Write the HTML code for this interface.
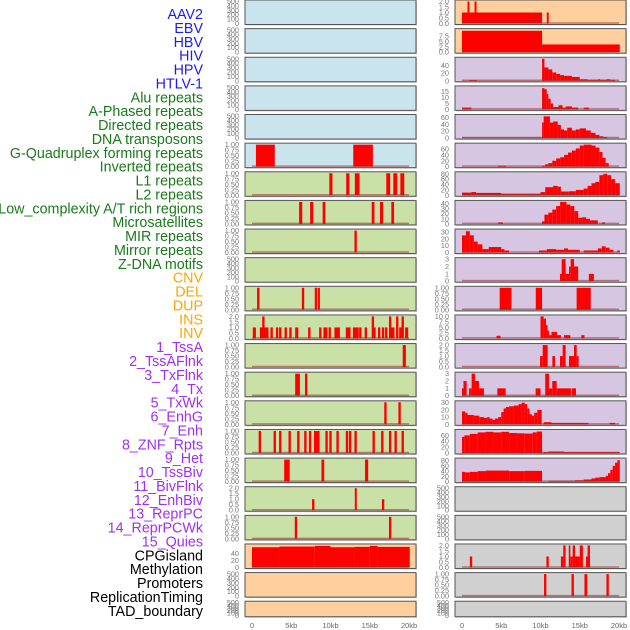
<!DOCTYPE html>
<html><head><meta charset="utf-8"><style>
html,body{margin:0;padding:0;background:#fff;width:630px;height:630px;overflow:hidden}
svg{display:block;font-family:"Liberation Sans",sans-serif}
</style></head><body>
<svg id="chart" width="630" height="630" viewBox="0 0 630 630"></svg>
<script>
// ---- labels ----
const trackNames = ["AAV2","EBV","HBV","HIV","HPV","HTLV-1","Alu repeats","A-Phased repeats","Directed repeats","DNA transposons","G-Quadruplex forming repeats","Inverted repeats","L1 repeats","L2 repeats","Low_complexity A/T rich regions","Microsatellites","MIR repeats","Mirror repeats","Z-DNA motifs","CNV","DEL","DUP","INS","INV","1_TssA","2_TssAFlnk","3_TxFlnk","4_Tx","5_TxWk","6_EnhG","7_Enh","8_ZNF_Rpts","9_Het","10_TssBiv","11_BivFlnk","12_EnhBiv","13_ReprPC","14_ReprPCWk","15_Quies","CPGisland","Methylation","Promoters","ReplicationTiming","TAD_boundary"];
const trackGroups = [0,0,0,0,0,0,1,1,1,1,1,1,1,1,1,1,1,1,1,2,2,2,2,2,3,3,3,3,3,3,3,3,3,3,3,3,3,3,3,4,4,4,4,4];
const xTickVals = [0,5,10,15,20];
const xTickLabels = ["0","5kb","10kb","15kb","20kb"];

// ---- left column data (kb start, kb end, value) ----
const L5 = [[0.5,2.9,1],[12.9,15.4,1]];
const L6 = [[9.85,10.25,1],[12.0,12.4,1],[13.1,13.7,1],[17.1,17.6,1],[18.0,18.5,1],[18.9,19.4,1]];
const L7 = [[6.0,6.4,1],[7.4,7.8,1],[9.0,9.35,1],[15.25,15.6,1],[16.3,16.7,1],[17.75,18.1,1]];
const L8 = [[13.05,13.35,1]];
const L10 = [[0.65,0.95,1],[6.35,6.65,1],[8.0,8.3,1],[8.4,8.65,1]];
const L11 = [[0.1,0.5,1],[1.0,2.1,1],[1.3,1.6,2],[2.35,2.65,1],[3.05,3.35,1],[3.45,3.75,1],[4.15,4.45,1],[4.75,5.05,1],[5.5,5.9,1],[7.15,7.45,1],[8.55,8.85,1],[9.1,9.6,1],[9.75,10.05,1],[10.5,11.2,1],[11.95,12.55,1],[12.85,13.6,1],[13.65,13.95,1],[14.35,14.65,1],[15.25,15.55,2],[15.5,15.75,1],[16.05,16.35,1],[16.55,16.85,1],[16.95,17.25,1],[17.45,17.75,2],[17.7,18.15,1],[18.35,18.65,2],[18.75,19.05,1],[19.05,19.35,2],[19.5,19.9,1]];
const L12 = [[19.2,19.6,1]];
const L13 = [[5.5,6.1,1],[6.75,7.05,1]];
const L14 = [[16.85,17.15,1],[18.65,18.95,1]];
const L15 = [[0.85,1.15,1],[2.75,3.05,1],[3.45,3.75,1],[4.65,4.95,1],[5.75,6.05,1],[6.65,6.95,1],[7.25,7.55,1],[7.9,8.6,1],[9.35,9.65,1],[9.85,10.15,1],[10.75,11.05,1],[11.95,12.25,1],[12.35,12.65,1],[13.05,13.35,1],[15.35,15.65,1],[16.45,16.75,1],[17.45,17.75,1],[18.15,18.45,1],[19.05,19.35,1]];
const L16 = [[4.1,4.8,1],[8.85,9.2,1],[14.4,14.8,1]];
const L17 = [[7.65,7.95,1],[13.1,13.35,2],[16.55,16.85,1]];
const L18 = [[5.45,5.75,1],[17.45,17.75,1]];
const L19 = [[0,3.5,57],[3.5,8,59],[8,10,61],[10,13,57],[13,15,58],[15,16,61],[16,20.1,58]];

// ---- right column data ----
const R0 = [[0,10.2,1],[0.7,0.95,2],[1.6,1.85,2],[10.8,11.05,1]];
const R1 = [[0,10.2,10],[10.2,20.1,3.6]];
const R2 = [[0.9,1.9,2],[10.2,10.5,58],[10.5,11,35],[11,11.5,30],[11.5,12,22],[12,12.5,18],[12.5,13,15],[13,14,13],[14,15,10],[15,16,4],[16,17.3,2.5],[17.3,17.6,4],[17.6,18.4,2.5],[18.4,18.9,4],[18.9,19.5,2.5]];
const R3 = [[0,1.2,1.5],[10.2,10.5,18],[10.5,10.8,17],[10.8,11,13],[11,11.3,9],[11.3,11.6,5],[11.6,12.3,2],[12.3,12.8,3.5],[12.8,13.2,1.5],[13.2,14,2.5],[14,14.8,1.5],[15.5,16.2,1.5]];
const R4 = [[0,10.2,1.5],[10.2,10.4,45],[10.4,11.2,63],[11.2,11.6,45],[11.6,12.2,48],[12.2,12.6,38],[12.6,13,25],[13,13.4,22],[13.4,14,30],[14,14.5,22],[14.5,15,25],[15,15.8,28],[15.8,16.4,22],[16.4,17,15],[17,17.5,9],[17.5,18,5],[18,18.5,3]];
const R5 = [[4.6,5.6,3],[10.2,10.6,3],[10.6,11,8],[11,11.5,12],[11.5,12,20],[12,12.5,28],[12.5,13,32],[13,13.5,40],[13.5,14,48],[14,14.5,55],[14.5,15,62],[15,15.5,72],[15.5,16.5,75],[16.5,17,72],[17,17.5,65],[17.5,17.9,50],[17.9,18.3,30],[18.3,18.7,12]];
const R6 = [[0,1.2,10],[1.2,1.8,12],[1.8,5,9],[5,10,6],[10,10.6,12],[10.6,11.6,30],[11.6,12.2,35],[12.2,12.6,32],[12.6,13.6,14],[13.6,14.5,15],[14.5,15.5,20],[15.5,16,25],[16,16.5,35],[16.5,17,45],[17,17.5,50],[17.5,18,75],[18,18.5,80],[18.5,19,75],[19,19.5,60],[19.5,20.1,45]];
const R7 = [[4.6,5.2,3],[10.2,10.5,5],[10.5,11,18],[11,11.5,22],[11.5,12,28],[12,12.5,35],[12.5,13.3,43],[13.3,13.8,38],[13.8,14.3,35],[14.3,14.8,25],[14.8,15.3,12],[15.3,15.8,13],[15.8,16.3,10],[16.3,17.3,7],[17.8,18.2,3]];
const R8 = [[0,0.5,25],[0.5,1,31],[1,1.5,25],[1.5,2,16],[2,2.6,12],[2.6,3.4,5],[3.4,5,8],[5,5.4,5],[5.4,6,3],[9.8,10.8,3],[10.8,12,5],[12,13,4],[13,13.5,6],[13.5,15,4],[15.5,17.3,3],[17.3,17.8,6],[17.8,18.3,9],[18.3,18.8,7],[18.8,19.3,4],[19.8,20.1,3]];
const R9 = [[12.48,12.7,1],[12.7,13.2,3],[13.2,13.63,1],[13.63,13.84,2],[13.84,14.27,3],[14.27,14.8,2],[16.16,16.8,1]];
const R10 = [[4.8,6.3,1],[9.4,10.2,1],[14.6,16.4,1]];
const R11 = [[4.4,4.9,1.2],[10.0,10.4,10],[10.4,10.7,9],[10.7,10.9,6],[10.9,11.1,3.5],[11.1,11.4,1.5],[11.4,12.1,3],[12.1,12.6,1.5],[13.0,13.8,1.5],[15.2,15.6,1.5]];
const R12 = [[9.94,10.28,1],[10.28,10.91,2],[11.51,11.85,1],[12.48,12.82,1],[12.82,13.2,2],[13.63,14.27,1],[14.27,14.61,2],[14.61,14.86,1]];
const R13 = [[0,0.19,1],[0.19,0.59,2],[0.9,1.23,1],[1.23,1.66,3],[1.66,2.17,2],[2.17,2.8,1],[4.5,5.56,1],[9.38,10,1],[10.6,11.08,3],[11.08,11.5,1],[11.5,12.06,2],[12.06,13.88,1],[13.97,14.52,1]];
const R14 = [[0,0.4,18],[0.4,0.7,16],[0.7,1.5,13],[1.5,2.2,12],[2.2,2.8,10],[2.8,3.2,9],[3.2,3.5,10],[3.5,3.9,8],[3.9,4.2,6],[4.2,4.6,8],[4.6,5,10],[5,5.3,17],[5.3,5.6,22],[5.6,6,24],[6,6.6,25],[6.6,7.2,26],[7.2,7.6,28],[7.6,8,30],[8,8.3,28],[8.3,8.6,22],[8.6,8.9,14],[8.9,9.2,12],[9.2,9.6,16],[9.6,10.15,20],[10.4,11.4,3],[11.4,16.1,2],[18.8,19.5,2]];
const R15 = [[0,0.3,55],[0.3,1,60],[1,2,65],[2,3,70],[3,4,72],[4,5,70],[5,6,72],[6,7,68],[7,8,67],[8,9,66],[9,9.5,70],[9.5,10.2,73],[10.4,11,3],[11,13,5],[13,20.1,3]];
const R16 = [[0,0.4,37],[0.4,1,35],[1,2,37],[2,3,40],[3,6,42],[6,8,40],[8,10.2,41],[11,14.4,3],[14.4,15.5,5],[15.5,16.5,8],[16.5,17,12],[17,17.5,15],[17.5,18.3,17],[18.3,18.6,22],[18.6,18.9,32],[18.9,19.2,45],[19.2,19.5,60],[19.5,19.8,72],[19.8,20.1,82]];
const R19 = [[1.0,1.3,1],[10.75,11.05,1],[12.6,12.9,1],[12.9,13.2,2],[13.6,13.8,2],[13.8,14.1,1],[14.1,14.4,2],[14.4,15,1],[15,15.4,2],[15.8,16.3,1],[16.0,16.3,2]];
const R20 = [[10.45,10.75,1],[13.95,14.25,1],[15.6,15.95,1],[18.4,18.7,1]];

// tick sets
const T500 = [0,100,200,300,400,500];
const T1 = [0,0.25,0.5,0.75,1];
const T2 = [0,0.5,1,1.5,2];

const BG = {blue:"#c9e4ec",green:"#c9e1a6",orange:"#ffd09e",purple:"#d6c6e2",gray:"#d0d0d0"};
function fmt(ticks,dec){return ticks.map(t=>t.toFixed(dec));}

const panels = [
 [0,0,"blue",null,500,T500,0],[0,1,"blue",null,500,T500,0],[0,2,"blue",null,500,T500,0],
 [0,3,"blue",null,500,T500,0],[0,4,"blue",null,500,T500,0],[0,5,"blue",L5,1,T1,2],
 [0,6,"green",L6,1,T1,2],[0,7,"green",L7,1,T1,2],[0,8,"green",L8,1,T1,2],
 [0,9,"green",null,500,T500,0],[0,10,"green",L10,1,T1,2],[0,11,"green",L11,2,T2,1],
 [0,12,"green",L12,1,T1,2],[0,13,"green",L13,1,T1,2],[0,14,"green",L14,1,T1,2],
 [0,15,"green",L15,1,T1,2],[0,16,"green",L16,1,T1,2],[0,17,"green",L17,2,T2,1],
 [0,18,"green",L18,1,T1,2],[0,19,"orange",L19,62,[0,20,40],0],
 [0,20,"orange",null,500,T500,0],[0,21,"orange",null,500,T500,0],
 [1,0,"orange",R0,2,T2,1],[1,1,"orange",R1,10.3,[0,2.5,5,7.5],1],
 [1,2,"purple",R2,58,[0,20,40],0],[1,3,"purple",R3,18.6,[0,5,10,15],0],
 [1,4,"purple",R4,64,[0,20,40,60],0],[1,5,"purple",R5,75,[0,20,40,60],0],
 [1,6,"purple",R6,82,[0,20,40,60,80],0],[1,7,"purple",R7,43,[0,10,20,30,40],0],
 [1,8,"purple",R8,32,[0,10,20,30],0],[1,9,"purple",R9,3,[0,1,2,3],0],
 [1,10,"purple",R10,1,T1,2],[1,11,"purple",R11,10,[0,2.5,5,7.5,10],1],
 [1,12,"purple",R12,2,T2,1],[1,13,"purple",R13,3,[0,1,2,3],0],
 [1,14,"purple",R14,30.5,[0,10,20,30],0],[1,15,"purple",R15,75,[0,20,40,60],0],
 [1,16,"purple",R16,84,[0,20,40,60,80],0],[1,17,"gray",null,500,T500,0],
 [1,18,"gray",null,500,T500,0],[1,19,"gray",R19,2,T2,1],[1,20,"gray",R20,1,T1,2],
 [1,21,"gray",null,500,T500,0]
];

const NS="http://www.w3.org/2000/svg";
const svg=document.getElementById('chart');
function mk(tag,attrs,parent){const e=document.createElementNS(NS,tag);for(const k in attrs)e.setAttribute(k,attrs[k]);(parent||svg).appendChild(e);return e;}
const PXKB=7.85;
function xScale(col,v){return (col?462:252)+v*PXKB;}
function rowTop(r){return r*28.63;}
function rowH(r){return r===21?15.5:24.5;}
const colors=["#1a1aff","#1a7a1a","#ffa500","#a030f0","#000000"];

trackNames.forEach((n,i)=>{
  const t=mk('text',{x:203,y:(14+i*13.88+5).toFixed(1),'text-anchor':'end','font-size':'14.3',fill:colors[trackGroups[i]]});
  
  
  t.textContent=n;
});

panels.forEach(p=>{
  const [col,row,bg,data,ymax,ticks,dec]=p;
  const g=mk('g',{});
  
  
  const top=rowTop(row),h=rowH(row),x0=col?455:245,w=171;
  const bot=top+h-1, yr=h-2.5;
  const ys=v=>bot-v/ymax*yr;
  mk('rect',{x:x0+1,y:top+1,width:w,height:h,fill:'#999',opacity:0.5},g);
  mk('rect',{x:x0,y:top,width:w,height:h,fill:BG[bg],stroke:'#555','stroke-width':1},g);
  const labs=fmt(ticks,dec);
  ticks.forEach((t,i)=>{
    const tl=mk('text',{x:col?449:239,y:(ys(t)+2.5).toFixed(1),'text-anchor':'end','font-size':'7.3',fill:'#777'},g);
    
    
    tl.textContent=labs[i];
  });
  if(data){
    data.forEach(d=>{
      const xa=xScale(col,d[0]),xb=xScale(col,d[1]);
      const r=mk('rect',{x:xa.toFixed(2),y:ys(d[2]).toFixed(2),width:Math.max(1,xb-xa).toFixed(2),height:(bot-ys(d[2])).toFixed(2),fill:'#ff0000'},g);
      
      
    });
    const bl=mk('line',{x1:xScale(col,0),x2:xScale(col,20),y1:bot-0.5,y2:bot-0.5,stroke:'rgba(160,40,40,0.55)','stroke-width':1.5},g);
    
    
  }
});

[0,1].forEach(col=>{
  xTickVals.forEach((v,i)=>{
    const t=mk('text',{x:xScale(col,v),y:628,'text-anchor':'middle','font-size':'7.5',fill:'#666'});
    
    
    t.textContent=xTickLabels[i];
  });
});
</script>
</body></html>
